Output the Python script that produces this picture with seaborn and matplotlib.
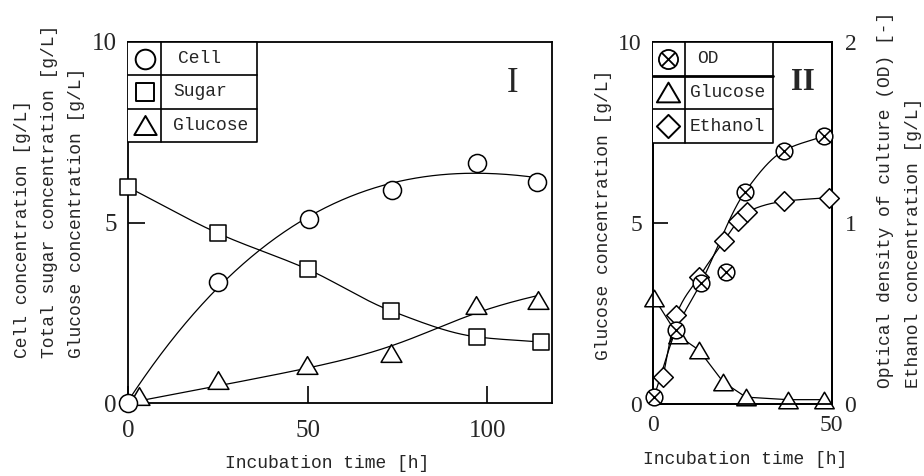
import numpy as np
import pandas as pd
import matplotlib
matplotlib.use("Agg")
import matplotlib.pyplot as plt
from matplotlib.path import Path
import seaborn as sns

# ---------------- data: panel I ----------------
t1_cell = [0.0, 25.1, 50.4, 73.5, 97.2, 113.9]
cell_1 = [0.0, 3.35, 5.1, 5.9, 6.65, 6.12]
t1_sugar = [0.0, 25.1, 50.1, 73.3, 97.2, 114.8]
sugar_1 = [5.98, 4.7, 3.7, 2.55, 1.83, 1.69]
t1_glucose = [3.0, 25.1, 49.9, 73.3, 96.9, 114.2]
glucose_1 = [0.2, 0.63, 1.05, 1.38, 2.71, 2.85]

# ---------------- data: panel II ----------------
t2_od = [0.3, 6.5, 13.5, 20.5, 25.8, 36.8, 48.0]
od_2 = [0.04, 0.41, 0.67, 0.73, 1.17, 1.40, 1.48]
od_on_curve = [True, True, True, False, True, True, True]
t2_glucose = [0.3, 6.9, 12.9, 19.7, 26.1, 37.9, 48.0]
glucose_2 = [2.93, 1.9, 1.49, 0.61, 0.19, 0.12, 0.12]
t2_ethanol = [2.8, 6.5, 12.9, 19.9, 23.9, 26.4, 36.8, 49.4]
ethanol_2 = [0.15, 0.49, 0.70, 0.90, 1.01, 1.06, 1.12, 1.14]

legend_1 = ["Cell", "Sugar", "Glucose"]
legend_2 = ["OD", "Glucose", "Ethanol"]
xticks_1 = [0, 50, 100]
xticks_2 = [0, 50]
yticks_left = [0, 5, 10]
yticks_right = [0, 1, 2]

# ---------------- helpers ----------------
def pchip(x, y, n=200):
    x = np.asarray(x, float); y = np.asarray(y, float)
    h = np.diff(x); d = np.diff(y) / h
    m = np.zeros_like(y)
    m[0], m[-1] = d[0], d[-1]
    for k in range(1, len(x) - 1):
        if d[k - 1] * d[k] <= 0:
            m[k] = 0.0
        else:
            w1 = 2 * h[k] + h[k - 1]; w2 = h[k] + 2 * h[k - 1]
            m[k] = (w1 + w2) / (w1 / d[k - 1] + w2 / d[k])
    xs = np.linspace(x[0], x[-1], n)
    idx = np.clip(np.searchsorted(x, xs) - 1, 0, len(x) - 2)
    hh = h[idx]; s = (xs - x[idx]) / hh
    h00 = 2 * s**3 - 3 * s**2 + 1; h10 = s**3 - 2 * s**2 + s
    h01 = -2 * s**3 + 3 * s**2; h11 = s**3 - s**2
    ys = h00 * y[idx] + h10 * hh * m[idx] + h01 * y[idx + 1] + h11 * hh * m[idx + 1]
    return xs, ys

def polycurve(x, y, deg, n=200):
    c = np.polyfit(x, y, deg)
    xs = np.linspace(min(x), max(x), n)
    return xs, np.polyval(c, xs)

def sigcurve(x, y, n=200):
    """least-squares fit of y = b*t + a / (1 + exp(-(t - t0) / w)), smooth bend (w >= 10)"""
    x = np.asarray(x, float); y = np.asarray(y, float)
    best = None
    for t0 in np.linspace(60, 110, 101):
        for w in np.linspace(10, 25, 61):
            A = np.column_stack([x, 1 / (1 + np.exp(-(x - t0) / w))])
            coef, *_ = np.linalg.lstsq(A, y, rcond=None)
            err = np.sum((A @ coef - y) ** 2)
            if best is None or err < best[0]:
                best = (err, t0, w, coef)
    _, t0, w, coef = best
    xs = np.linspace(x.min(), x.max(), n)
    return xs, coef[0] * xs + coef[1] / (1 + np.exp(-(xs - t0) / w))

sns.set_theme(style="white")
plt.rcParams['font.family'] = ['Liberation Mono', 'DejaVu Sans']
SERIF = ['Liberation Serif', 'DejaVu Serif']
LW = 0.9
EW = 1.1

W, H = 924, 476
fig = plt.figure(figsize=(W / 100, H / 100), dpi=100)

def ax_rect(l, r, t, b):
    return [l / W, 1 - b / H, (r - l) / W, (b - t) / H]

ax1 = fig.add_axes(ax_rect(128, 552, 42, 403))
ax2 = fig.add_axes(ax_rect(653, 832, 42, 404))
ax2r = ax2.twinx()

tri = Path([(-1, -0.85), (1, -0.85), (0, 0.85), (-1, -0.85)],
           [Path.MOVETO, Path.LINETO, Path.LINETO, Path.CLOSEPOLY])

def markers(ax, x, y, marker, s, lw=EW, z=4):
    sns.scatterplot(x=x, y=y, marker=marker, s=s, color='white',
                    edgecolor='black', linewidth=lw, ax=ax, zorder=z,
                    legend=False, clip_on=False)

def otimes(ax, x, y, s):
    markers(ax, x, y, 'o', s)
    sns.scatterplot(x=x, y=y, marker='x', s=s * 0.5, color='black',
                    linewidth=EW, ax=ax, zorder=5, legend=False, clip_on=False)

def curve(ax, xs, ys):
    sns.lineplot(x=xs, y=ys, color='black', linewidth=LW, ax=ax, zorder=2,
                 sort=False, estimator=None)

# ---------------- panel I ----------------
xs, ys = polycurve(t1_cell, cell_1, 3)
curve(ax1, xs, ys)
xs, ys = pchip(t1_sugar, sugar_1)
curve(ax1, xs, ys)
xs, ys = sigcurve(t1_glucose, glucose_1)
curve(ax1, xs, ys)
markers(ax1, t1_glucose, glucose_1, tri, 225)
markers(ax1, t1_sugar, sugar_1, 's', 144)
markers(ax1, t1_cell, cell_1, 'o', 169)

ax1.set_xlim(0, 118)
ax1.set_ylim(0, 10)
ax1.set_xticks(xticks_1)
ax1.set_yticks(yticks_left)
ax1.tick_params(axis='both', direction='in', length=12, width=1.2, color='black',
                labelsize=18, bottom=True, left=True, top=False, right=False)
ax1.tick_params(axis='x', pad=12)
ax1.tick_params(axis='y', pad=8)
for lab in ax1.get_xticklabels() + ax1.get_yticklabels():
    lab.set_family(SERIF)
ax1.set_xlabel(''); ax1.set_ylabel('')
ax1.text(0.908, 0.886, 'I', transform=ax1.transAxes, ha='center', va='center',
         fontsize=25, family=SERIF)

# ---------------- panel II ----------------
curve(ax2, t2_glucose, glucose_2)
markers(ax2, t2_glucose, glucose_2, tri, 196)
t_od_c = [t for t, k in zip(t2_od, od_on_curve) if k]
od_c = [v for v, k in zip(od_2, od_on_curve) if k]
xs, ys = pchip(t_od_c, od_c)
curve(ax2r, xs, ys)
xs, ys = pchip(t2_ethanol, ethanol_2)
curve(ax2r, xs, ys)
markers(ax2r, t2_ethanol, ethanol_2, 'D', 100)
otimes(ax2r, t2_od, od_2, 144)

ax2.set_xlim(0, 50.3)
ax2.set_ylim(0, 10)
ax2r.set_ylim(0, 2)
ax2.set_xticks(xticks_2)
ax2.set_yticks(yticks_left)
ax2r.set_yticks(yticks_right)
ax2.tick_params(axis='y', direction='in', length=11, width=1.2, color='black',
                labelsize=17, left=True, right=False, pad=8)
ax2.tick_params(axis='x', direction='in', length=0, labelsize=17, pad=8, bottom=True)
ax2r.tick_params(axis='y', direction='in', length=0, labelsize=17, pad=9, right=True)
for lab in ax2.get_xticklabels() + ax2.get_yticklabels() + ax2r.get_yticklabels():
    lab.set_family(SERIF)
ax2.set_xlabel(''); ax2.set_ylabel(''); ax2r.set_ylabel('')
ax2r.text(0.838, 0.889, 'II', transform=ax2r.transAxes, ha='center', va='center',
          fontsize=22, family=SERIF, fontweight='bold')

for a in (ax1, ax2, ax2r):
    for sp in a.spines.values():
        sp.set_visible(True)
        sp.set_color('black')
        sp.set_linewidth(1.3)
    a.grid(False)

# ---------------- table-style legends ----------------
def table_legend(ax, labels, kinds, xdiv, xright, ybot, mx, tx, sizes, thick_first=False):
    tr = ax.transAxes
    kw = dict(transform=tr, color='black', clip_on=False, zorder=6)
    ax.add_patch(plt.Rectangle((0, ybot), xright, 1 - ybot, transform=tr,
                               facecolor='white', edgecolor='none', zorder=5.5, clip_on=False))
    ax.plot([0, xright, xright, 0], [1, 1, ybot, ybot], lw=1.2, **kw)
    ax.plot([xdiv, xdiv], [1, ybot], lw=1.2, **kw)
    edges = np.linspace(1, ybot, len(labels) + 1)
    for i, e in enumerate(edges[1:-1]):
        ax.plot([0, xright], [e, e], lw=2.0 if (thick_first and i == 0) else 1.2, **kw)
    for i, (lab, kind, s) in enumerate(zip(labels, kinds, sizes)):
        yc = (edges[i] + edges[i + 1]) / 2
        if kind == 'otimes':
            ax.scatter([mx], [yc], marker='o', s=s, facecolor='white', edgecolor='black',
                       linewidth=1.3, transform=tr, clip_on=False, zorder=7)
            ax.scatter([mx], [yc], marker='x', s=s * 0.5, color='black',
                       linewidth=1.3, transform=tr, clip_on=False, zorder=8)
        else:
            ax.scatter([mx], [yc], marker=kind, s=s, facecolor='white', edgecolor='black',
                       linewidth=1.4, transform=tr, clip_on=False, zorder=7)
        ax.text(tx[i], yc, lab, transform=tr, ha='left', va='center', fontsize=13, zorder=8)

table_legend(ax1, legend_1, ['o', 's', tri], 0.078, 0.304, 0.723, 0.040,
             [0.118, 0.106, 0.106], [200, 150, 260])
table_legend(ax2r, legend_2, ['otimes', tri, 'D'], 0.179, 0.67, 0.721, 0.084,
             [0.246, 0.207, 0.207], [190, 280, 140], thick_first=True)

# ---------------- axis titles ----------------
def fx(px): return px / W
def fy(py): return 1 - py / H

lab_kw = dict(rotation=90, ha='center', va='bottom', fontsize=13)
fig.text(fx(23), fy(358), 'Cell concentration [g/L]', **lab_kw)
fig.text(fx(50), fy(358), 'Total sugar concentration [g/L]', **lab_kw)
fig.text(fx(77), fy(358), 'Glucose concentration [g/L]', **lab_kw)
fig.text(fx(603), fy(360), 'Glucose concentration [g/L]', **lab_kw)
fig.text(fx(885), fy(388), 'Optical density of culture (OD) [-]', **lab_kw)
fig.text(fx(913), fy(388), 'Ethanol concentration [g/L]', **lab_kw)
fig.text(fx(327), fy(463), 'Incubation time [h]', ha='center', va='center', fontsize=13)
fig.text(fx(745), fy(460), 'Incubation time [h]', ha='center', va='center', fontsize=13)

fig.savefig('out.png', dpi=100, facecolor='white')
